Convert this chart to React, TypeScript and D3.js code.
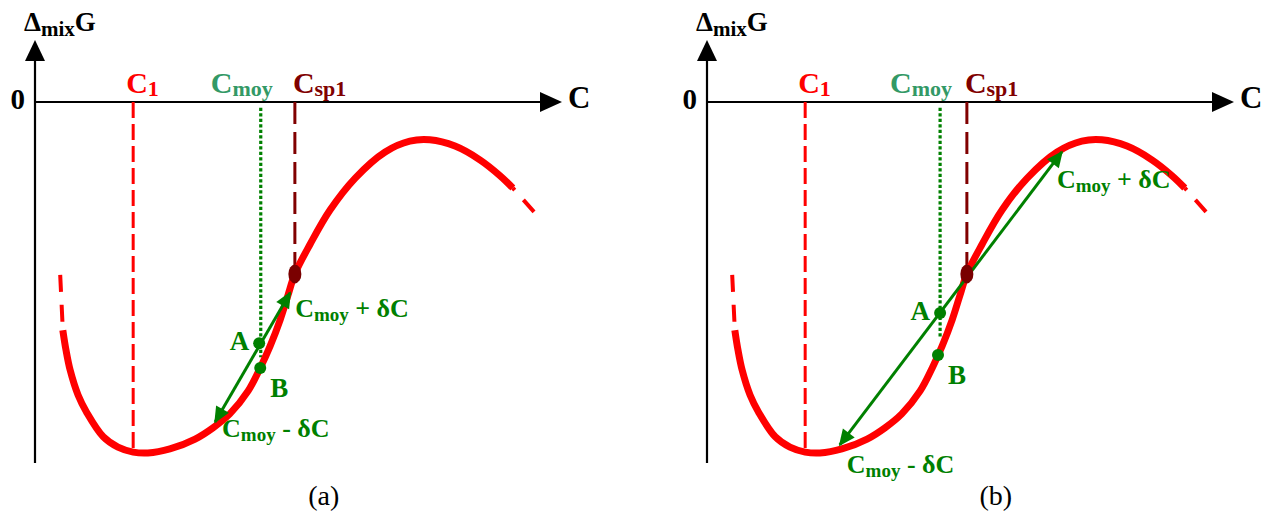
import React from 'react';
import * as d3 from 'd3';

// free energy of mixing curve, same shape in both panels
const curveC = [0.53, 0.59, 0.67, 0.82, 0.99, 1.30, 1.58, 1.87, 2.15, 2.57, 3.05, 3.39, 3.71, 4.06, 4.29, 4.48, 4.67, 4.82, 4.95, 5.24, 5.62, 6.10, 6.67, 7.14, 7.52, 8.00, 8.48, 8.86, 9.10];
const curveG = [-5.07, -5.51, -5.96, -6.51, -6.91, -7.44, -7.67, -7.78, -7.80, -7.71, -7.49, -7.24, -6.93, -6.42, -5.91, -5.42, -4.84, -4.29, -3.82, -3.16, -2.40, -1.69, -1.11, -0.87, -0.84, -0.98, -1.29, -1.64, -1.91];
// dashed ends of the curve
const headC = [0.48, 0.53];
const headG = [-3.84, -5.07];
const tailC = [9.10, 9.68];
const tailG = [-1.91, -2.67];

const c1 = 1.87;
const c1G = -7.80;
const csp1 = 4.95;
const csp1G = -3.82;

// per panel: (a), (b)
const panels = ['(a)', '(b)'];
const cmoy = [4.30, 4.44];
const cmoyEndG = [-5.67, -5.24];
const pointAC = [4.27, 4.44];
const pointAG = [-5.36, -4.69];
const pointBC = [4.29, 4.40];
const pointBG = [-5.91, -5.62];
const lowC = [3.43, 2.53];
const lowG = [-7.11, -7.62];
const highC = [4.86, 6.76];
const highG = [-4.24, -1.11];

const W = 1269;
const H = 515;
const FONT = '"Liberation Serif", "Times New Roman", serif';
const GREEN = '#008000';
const RED = '#ff0000';
const MAROON = '#800000';
const SEA = '#339966';

const sub = (main: string, s: string, size: number, ssize: number, shift: number, after = '') => (
  <>
    <tspan fontSize={size}>{main}</tspan>
    <tspan fontSize={ssize} dy={shift}>{s}</tspan>
    {after && <tspan fontSize={size} dy={-shift}>{after}</tspan>}
  </>
);

const Panel = ({ i, dx }: { i: number; dx: number }) => {
  const x = d3.scaleLinear().domain([0, 10]).range([35 + dx, 560 + dx]);
  const y = d3.scaleLinear().domain([0, -8]).range([102, 462]);
  const path = (cs: number[], gs: number[], curve: d3.CurveFactory = d3.curveCatmullRom) =>
    d3.line<number>().x(c => x(c)).y((_, k) => y(gs[k])).curve(curve)(cs) || '';

  const ax = x(0);
  const ay = y(0);
  const xTip = x(10) + 2;
  const yTop = y(1.38);

  return (
    <g fontFamily={FONT} fontWeight="bold">
      {/* axes */}
      <line x1={ax} y1={y(-8.02)} x2={ax} y2={yTop + 18} stroke="#000" strokeWidth={2.2} />
      <path d={`M${ax},${yTop} L${ax - 10},${yTop + 21} L${ax + 10},${yTop + 21} Z`} fill="#000" />
      <line x1={ax} y1={ay} x2={xTip - 20} y2={ay} stroke="#000" strokeWidth={2.2} />
      <path d={`M${xTip},${ay} L${xTip - 22},${ay - 10} L${xTip - 22},${ay + 10} Z`} fill="#000" />
      <text x={ax - 11} y={31}>{sub('\u0394', 'mix', 27, 21, 5, 'G')}</text>
      <text x={ax - 10} y={ay + 7} fontSize={29} textAnchor="end">0</text>
      <text x={xTip + 6} y={ay + 6} fontSize={31}>C</text>

      {/* reference lines */}
      <line x1={x(c1)} y1={ay} x2={x(c1)} y2={y(c1G)} stroke={RED} strokeWidth={3} strokeDasharray="16 6" />
      <line x1={x(csp1)} y1={ay} x2={x(csp1)} y2={y(csp1G)} stroke={MAROON} strokeWidth={3} strokeDasharray="22 8" />
      <line x1={x(cmoy[i])} y1={y(-0.13)} x2={x(cmoy[i])} y2={y(cmoyEndG[i])} stroke={GREEN} strokeWidth={3.2} strokeDasharray="3.2 2.3" />
      <text x={x(c1) - 7} y={ay - 9} fill={RED}>{sub('C', '1', 30, 22, 3)}</text>
      <text x={x(cmoy[i]) + 12} y={ay - 9} fill={SEA} textAnchor="end">{sub('C', 'moy', 30, 22, 3)}</text>
      <text x={x(csp1) - 2} y={ay - 9} fill={MAROON}>{sub('C', 'sp1', 30, 22, 3)}</text>

      {/* curve */}
      <path d={path(curveC, curveG)} fill="none" stroke={RED} strokeWidth={7} strokeLinecap="butt" />
      <path d={path(headC, headG, d3.curveLinear)} fill="none" stroke={RED} strokeWidth={4} strokeDasharray="17 13" />
      <path d={path(tailC, tailG, d3.curveLinear)} fill="none" stroke={RED} strokeWidth={4} strokeDasharray="3 13 16 14 20" />

      {/* secant arrow */}
      <line x1={x(lowC[i])} y1={y(lowG[i])} x2={x(highC[i])} y2={y(highG[i])}
        stroke={GREEN} strokeWidth={3} markerStart="url(#arr)" markerEnd="url(#arr)" />
      <ellipse cx={x(csp1)} cy={y(csp1G)} rx={6.5} ry={9.5} fill="#7a0000" />
      <circle cx={x(pointAC[i])} cy={y(pointAG[i])} r={6} fill={GREEN} />
      <circle cx={x(pointBC[i])} cy={y(pointBG[i])} r={6} fill={GREEN} />

      <g fill={GREEN}>
        <text x={x(pointAC[i]) - 10} y={y(pointAG[i]) + 7} fontSize={27} textAnchor="end">A</text>
        <text x={x(pointBC[i]) + 10} y={y(pointBG[i]) + 29} fontSize={27}>B</text>
        <text x={x(highC[i]) + (i === 0 ? 5 : -5)} y={y(highG[i]) + (i === 0 ? 24 : 36)}>
          {sub('C', 'moy', 26, 19, 4)}<tspan fontSize={26} dy={-4}>{' + \u03b4C'}</tspan>
        </text>
        <text x={x(lowC[i]) + 7} y={y(lowG[i]) + (i === 0 ? 15 : 28)}>
          {sub('C', 'moy', 26, 19, 4)}<tspan fontSize={26} dy={-4}>{' - \u03b4C'}</tspan>
        </text>
      </g>

      <text x={x(5.5)} y={505} fontSize={28} fontWeight="normal" textAnchor="middle">{panels[i]}</text>
    </g>
  );
};

export default function App() {
  return (
    <svg width={W} height={H} style={{ position: 'absolute', left: 0, top: 0, background: '#fff' }}>
      <defs>
        <marker id="arr" viewBox="0 0 10 10" refX={9} refY={5} markerWidth={6.5} markerHeight={5.5}
          markerUnits="strokeWidth" orient="auto-start-reverse">
          <path d="M0,0.5 L10,5 L0,9.5 Z" fill={GREEN} />
        </marker>
      </defs>
      <rect width={W} height={H} fill="#fff" />
      {panels.map((p, i) => <Panel key={p} i={i} dx={i * 672} />)}
    </svg>
  );
}
